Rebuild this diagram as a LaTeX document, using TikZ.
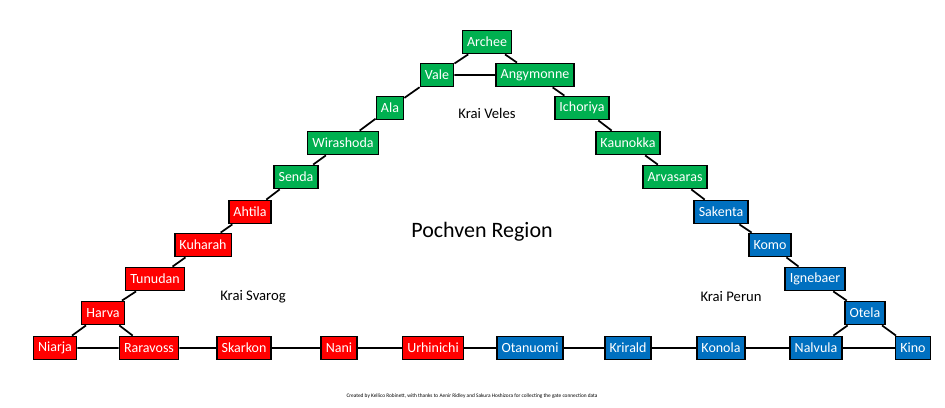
\documentclass[tikz,border=0pt]{standalone}
\usepackage{fontspec}
\setmainfont{Carlito}
\definecolor{gn}{RGB}{0,176,80}
\definecolor{rd}{RGB}{255,0,0}
\definecolor{bl}{RGB}{0,112,192}
\begin{document}
\begin{tikzpicture}[x=0.75pt,y=-0.75pt,
 sys/.style={draw=black,line width=1.1pt,text=white,font=\fontsize{10.5}{12}\selectfont,inner xsep=3.5pt,minimum height=17.5pt,anchor=center},
 g/.style={sys,fill=gn},r/.style={sys,fill=rd},b/.style={sys,fill=bl},
 lbl/.style={font=\fontsize{11}{13}\selectfont},
 ln/.style={line width=1.3pt}]
\useasboundingbox (0,0) rectangle (945,407);
\fill[white] (0,0) rectangle (945,407);
\node[g] (archee) at (487,42) {Archee};
\node[g] (vale) at (437,75) {Vale};
\node[g] (angy) at (535,75) {Angymonne};
\node[g] (ala) at (390,108) {Ala};
\node[g] (icho) at (582,108) {Ichoriya};
\node[g] (wira) at (343,143) {Wirashoda};
\node[g] (kaun) at (628,143) {Kaunokka};
\node[g] (senda) at (296,177) {Senda};
\node[g] (arva) at (675,177) {Arvasaras};
\node[r] (ahti) at (250,212) {Ahtila};
\node[b] (sake) at (721,212) {Sakenta};
\node[r] (kuha) at (203,245) {Kuharah};
\node[b] (komo) at (770,245) {Komo};
\node[r] (tunu) at (155,279) {Tunudan};
\node[b] (igne) at (815,279) {Ignebaer};
\node[r] (harva) at (103,313) {Harva};
\node[b] (otela) at (865,313) {Otela};
\node[r] (niar) at (55,348) {Niarja};
\node[r] (rara) at (149,348) {Raravoss};
\node[r] (skar) at (244,348) {Skarkon};
\node[r] (nani) at (339,348) {Nani};
\node[r] (urhi) at (433,348) {Urhinichi};
\node[b] (otan) at (530,348) {Otanuomi};
\node[b] (krii) at (628,348) {Krirald};
\node[b] (kono) at (721,348) {Konola};
\node[b] (nalv) at (816,348) {Nalvula};
\node[b] (kino) at (913,348) {Kino};
\draw[ln] (archee)--(vale) (archee)--(angy) (vale)--(angy) (vale)--(ala) (angy)--(icho)
 (ala)--(wira) (icho)--(kaun) (wira)--(senda) (kaun)--(arva) (senda)--(ahti) (arva)--(sake)
 (ahti)--(kuha) (sake)--(komo) (kuha)--(tunu) (komo)--(igne) (tunu)--(harva) (igne)--(otela)
 (harva)--(niar) (harva)--(rara) (otela)--(nalv) (otela)--(kino)
 (niar)--(rara) (rara)--(skar) (skar)--(nani) (nani)--(urhi) (urhi)--(otan) (otan)--(krii)
 (krii)--(kono) (kono)--(nalv) (nalv)--(kino);
\node[lbl] (kv) at (487,113) {Krai Veles};
\node[font=\fontsize{16.5}{19}\selectfont] (pr) at (482,232) {Pochven Region};
\node[lbl] (ks) at (253,297) {Krai Svarog};
\node[lbl] (kp) at (731,297) {Krai Perun};
\node[font=\fontsize{4}{5}\selectfont] (cr) at (472,396) {Created by Kellico Robinett, with thanks to Aenir Ridley and Sakura Hoshizora for collecting the gate connection data};
\end{tikzpicture}
\end{document}
